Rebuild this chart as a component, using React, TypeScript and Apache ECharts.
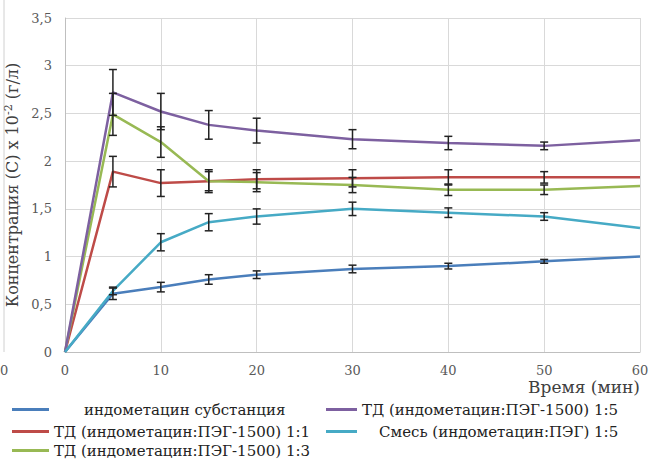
import React, { useEffect, useRef } from "react";
import * as echarts from "echarts";

const times = [0, 5, 10, 15, 20, 30, 40, 50, 60];
const substance = [0, 0.61, 0.68, 0.76, 0.81, 0.87, 0.9, 0.95, 1.0];
const substanceErr = [0, 0.06, 0.05, 0.05, 0.04, 0.04, 0.03, 0.02, 0];
const td11 = [0, 1.89, 1.77, 1.79, 1.81, 1.82, 1.83, 1.83, 1.83];
const td11Err = [0, 0.16, 0.14, 0.12, 0.1, 0.09, 0.08, 0.06, 0];
const td13 = [0, 2.49, 2.2, 1.79, 1.78, 1.75, 1.7, 1.7, 1.74];
const td13Err = [0, 0.22, 0.16, 0.1, 0.1, 0.08, 0.06, 0.05, 0];
const td15 = [0, 2.72, 2.52, 2.38, 2.32, 2.23, 2.19, 2.16, 2.22];
const td15Err = [0, 0.24, 0.19, 0.15, 0.13, 0.1, 0.07, 0.04, 0];
const mix = [0, 0.64, 1.15, 1.36, 1.42, 1.5, 1.46, 1.42, 1.3];
const mixErr = [0, 0.04, 0.09, 0.09, 0.08, 0.07, 0.05, 0.04, 0];

const names = [
  "индометацин субстанция",
  "ТД (индометацин:ПЭГ-1500) 1:1",
  "ТД (индометацин:ПЭГ-1500) 1:3",
  "ТД (индометацин:ПЭГ-1500) 1:5",
  "Смесь (индометацин:ПЭГ) 1:5",
];
const colors = ["#4a7ebb", "#be4b48", "#98b954", "#7d60a0", "#46aac5"];
const values = [substance, td11, td13, td15, mix];
const errors = [substanceErr, td11Err, td13Err, td15Err, mixErr];

const FONT = "DejaVu Serif";

export default function App() {
  const ref = useRef<HTMLDivElement>(null);
  useEffect(() => {
    document.body.style.margin = "0";
    const chart = echarts.init(ref.current!, undefined, { renderer: "svg" });
    const lineSeries = values.map((vals, i) => ({
      name: names[i],
      type: "line",
      data: times.map((t, j) => [t, vals[j]]),
      showSymbol: false,
      lineStyle: { color: colors[i], width: 2.5 },
      itemStyle: { color: colors[i] },
      z: 2,
    }));
    const errSeries = values.map((vals, i) => ({
      type: "custom",
      silent: true,
      z: 3,
      data: times
        .map((t, j) => [t, vals[j] - errors[i][j], vals[j] + errors[i][j]])
        .filter((d) => d[2] - d[1] > 0),
      renderItem: (params: any, api: any) => {
        const x = api.value(0);
        const lo = api.coord([x, api.value(1)]);
        const hi = api.coord([x, api.value(2)]);
        const w = 4;
        const st = { stroke: "#222", lineWidth: 1.5 };
        return {
          type: "group",
          children: [
            { type: "line", shape: { x1: hi[0], y1: hi[1], x2: lo[0], y2: lo[1] }, style: st },
            { type: "line", shape: { x1: hi[0] - w, y1: hi[1], x2: hi[0] + w, y2: hi[1] }, style: st },
            { type: "line", shape: { x1: lo[0] - w, y1: lo[1], x2: lo[0] + w, y2: lo[1] }, style: st },
          ],
        };
      },
    }));
    const legendPos = [
      { left: 12, top: 402, w: 37, pad: 30 },
      { left: 12, top: 424, w: 37, pad: 0 },
      { left: 12, top: 443, w: 37, pad: 0 },
      { left: 326, top: 402, w: 31, pad: 0 },
      { left: 326, top: 424, w: 31, pad: 17 },
    ];
    const legends = names.map((n, i) => ({
      data: [n],
      left: legendPos[i].left,
      top: legendPos[i].top,
      icon: "rect",
      itemWidth: legendPos[i].w,
      itemHeight: 3,
      itemGap: 0,
      padding: 0,
      textStyle: {
        fontFamily: FONT,
        fontSize: 15,
        color: "#222",
        padding: [0, 0, 0, legendPos[i].pad],
      },
    }));
    chart.setOption({
      animation: false,
      textStyle: { fontFamily: FONT },
      grid: { left: 65, right: 9, top: 18, bottom: 108, containLabel: false, outerBoundsMode: "none" },
      legend: legends,
      xAxis: {
        type: "value",
        min: 0,
        max: 60,
        interval: 10,
        name: "Время (мин)",
        nameLocation: "end",
        nameGap: 0,
        nameTextStyle: {
          fontFamily: FONT,
          fontSize: 17,
          color: "#404040",
          align: "right",
          verticalAlign: "top",
          padding: [26, 0, 0, 0],
        },
        axisLine: { lineStyle: { color: "#bfbfbf", width: 1 } },
        axisTick: { show: false },
        axisLabel: { fontFamily: FONT, fontSize: 13, color: "#595959", margin: 12 },
        splitLine: { show: true, lineStyle: { color: "#d9d9d9", width: 1 } },
      },
      yAxis: {
        type: "value",
        min: 0,
        max: 3.5,
        interval: 0.5,
        name: "Концентрация (С) х 10{sup|-2} (г/л)",
        nameLocation: "middle",
        nameGap: 36,
        nameTextStyle: {
          fontFamily: FONT,
          fontSize: 16,
          color: "#404040",
          rich: {
            sup: { fontFamily: FONT, fontSize: 11, color: "#404040", padding: [0, 0, 8, 0] },
          },
        },
        axisLine: { show: true, lineStyle: { color: "#bfbfbf", width: 1 } },
        axisTick: { show: false },
        axisLabel: {
          fontFamily: FONT,
          fontSize: 13,
          color: "#595959",
          margin: 13,
          formatter: (v: number) => String(v).replace(".", ","),
        },
        splitLine: { show: true, lineStyle: { color: "#d9d9d9", width: 1 } },
      },
      graphic: [
        { type: "line", shape: { x1: 4, y1: 0, x2: 4, y2: 352 }, style: { stroke: "#d0d0d0", lineWidth: 1 } },
        { type: "text", x: 0, y: 364, style: { text: "0", fontFamily: FONT, fontSize: 13, fill: "#595959" } },
      ],
      series: [...lineSeries, ...errSeries],
    });
    return () => chart.dispose();
  }, []);
  return <div ref={ref} style={{ width: 649, height: 460 }} />;
}
